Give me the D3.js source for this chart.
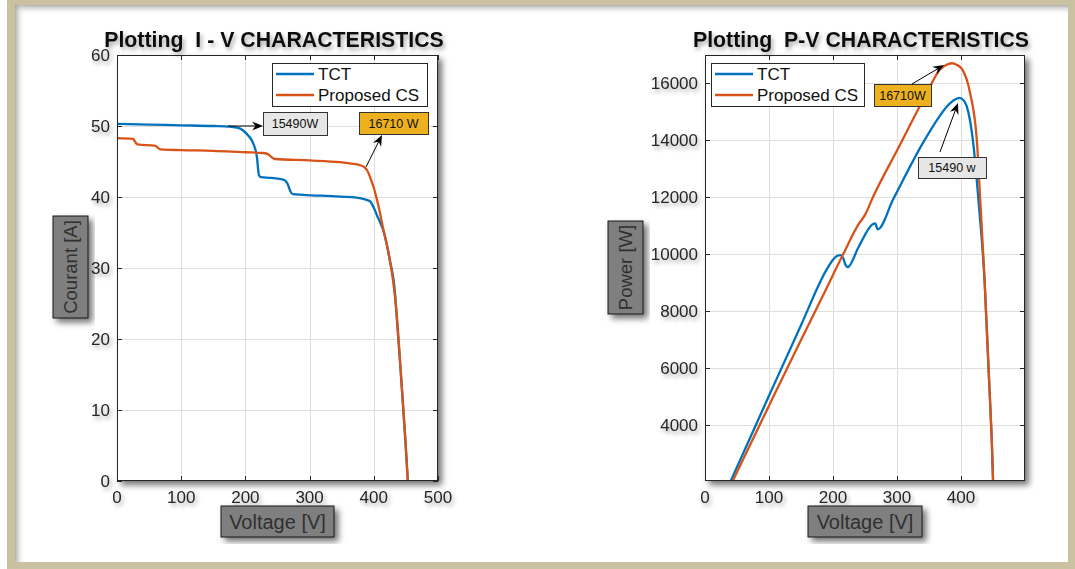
<!DOCTYPE html>
<html><head><meta charset="utf-8">
<script src="https://cdn.jsdelivr.net/npm/d3@7"></script>
<style>
body{margin:0;background:#fff;}
svg{display:block;font-family:"Liberation Sans",Arial,Helvetica,sans-serif;}
</style></head><body>
<svg id="fig" width="1075" height="569"></svg>
<script>
// ---- I-V characteristics ----
const ivVoltTCT = [0, 50, 100, 150, 176, 190, 196, 204, 212, 218, 221, 224, 240, 256, 262, 266, 270, 274, 290, 340, 370, 385, 394, 400, 405, 410, 414, 420, 425, 433, 436, 441, 445, 449, 453];
const ivCurrTCT = [50.3, 50.2, 50.1, 50.0, 49.9, 49.7, 49.4, 48.7, 47.6, 45.6, 43.1, 42.8, 42.7, 42.5, 42.3, 41.8, 40.8, 40.4, 40.3, 40.1, 39.95, 39.7, 39.4, 38.5, 37.4, 36.4, 35.5, 33.4, 31.1, 26.5, 22.7, 16.5, 11.4, 6.0, 0];
const ivVoltCS = [0, 25, 28, 32, 60, 64, 68, 100, 150, 200, 228, 236, 241, 246, 300, 347, 365, 378, 385, 390, 395, 400, 405, 410, 414, 420, 425, 430, 435, 440, 445, 449, 453];
const ivCurrCS = [48.3, 48.2, 47.8, 47.4, 47.2, 46.9, 46.7, 46.6, 46.5, 46.3, 46.2, 46.0, 45.6, 45.35, 45.15, 44.9, 44.7, 44.5, 44.2, 43.7, 42.6, 41.3, 39.6, 37.6, 35.8, 33.4, 31.1, 28.2, 24.2, 18.2, 11.4, 6.0, 0];

// ---- P-V characteristics ----
const pvVoltTCT = [0, 100, 150, 190, 200, 206, 212, 216, 219, 223, 240, 262, 266, 270, 294, 341, 365, 378, 390, 398, 405, 409, 419, 428, 437, 443, 448, 453];
const pvPowTCT = [0, 5020, 7500, 9450, 9800, 9930, 9960, 9850, 9650, 9540, 10250, 11050, 11080, 10870, 11925, 13927, 14800, 15192, 15430, 15490, 15380, 15192, 13927, 11700, 9000, 6000, 3500, 0];
const pvVoltCS = [0, 100, 150, 183, 216, 240, 250, 263, 300, 347, 367, 380, 386, 393, 402, 414, 425, 430, 437, 443, 448, 453];
const pvPowCS = [0, 4670, 6980, 8480, 10000, 11050, 11380, 12030, 13640, 15683, 16492, 16680, 16710, 16660, 16492, 15683, 13927, 11925, 9000, 6000, 3500, 0];

const seriesNames = ["TCT", "Proposed CS"];
const seriesColors = ["#0072BD", "#D95319"];

const ivXTicks = [0, 100, 200, 300, 400, 500];
const ivYTicks = [0, 10, 20, 30, 40, 50, 60];
const pvXTicks = [0, 100, 200, 300, 400];
const pvYTicks = [4000, 6000, 8000, 10000, 12000, 14000, 16000];

const peakLabels = {iv: ["15490W", "16710 W"], pv: ["15490 w", "16710W"]};

const svg = d3.select("#fig");
const defs = svg.append("defs");

// soft shadows used for text, axes boxes and label boxes
const fT = defs.append("filter").attr("id", "tsh").attr("x", "-30%").attr("y", "-40%").attr("width", "170%").attr("height", "200%");
fT.append("feDropShadow").attr("dx", 2).attr("dy", 3).attr("stdDeviation", 2).attr("flood-color", "#000").attr("flood-opacity", 0.35);
const fB = defs.append("filter").attr("id", "bsh").attr("x", "-10%").attr("y", "-10%").attr("width", "130%").attr("height", "130%");
fB.append("feDropShadow").attr("dx", 4).attr("dy", 4).attr("stdDeviation", 3).attr("flood-color", "#000").attr("flood-opacity", 0.55);

// inner shadow gradients for the frame
const gTop = defs.append("linearGradient").attr("id", "gTop").attr("x1", 0).attr("y1", 0).attr("x2", 0).attr("y2", 1);
gTop.append("stop").attr("offset", 0).attr("stop-color", "#9a9a9a").attr("stop-opacity", 0.8);
gTop.append("stop").attr("offset", 1).attr("stop-color", "#fff").attr("stop-opacity", 0);
const gLeft = defs.append("linearGradient").attr("id", "gLeft").attr("x1", 0).attr("y1", 0).attr("x2", 1).attr("y2", 0);
gLeft.append("stop").attr("offset", 0).attr("stop-color", "#9a9a9a").attr("stop-opacity", 0.8);
gLeft.append("stop").attr("offset", 1).attr("stop-color", "#fff").attr("stop-opacity", 0);

// frame
const tan = "#c9c19f";
svg.append("rect").attr("x", 15).attr("y", 5).attr("width", 1053).attr("height", 10).attr("fill", "url(#gTop)");
svg.append("rect").attr("x", 15).attr("y", 5).attr("width", 10).attr("height", 557).attr("fill", "url(#gLeft)");
svg.append("path")
  .attr("d", "M7,0H1075V569H7Z M15,5V562H1068V5Z")
  .attr("fill", tan).attr("fill-rule", "evenodd");

const AXC = "#262626";

function drawPanel(cfg) {
  const x = d3.scaleLinear().domain(cfg.xDomain).range([cfg.x0, cfg.x1]);
  const y = d3.scaleLinear().domain(cfg.yDomain).range([cfg.y1, cfg.y0]);
  const g = svg.append("g");

  // axes background with drop shadow
  g.append("rect").attr("x", cfg.x0).attr("y", cfg.y0).attr("width", cfg.x1 - cfg.x0).attr("height", cfg.y1 - cfg.y0)
    .attr("fill", "#fff").attr("filter", "url(#bsh)");

  // grid
  const grid = g.append("g").attr("stroke", "#dedede").attr("stroke-width", 1);
  cfg.xTicks.forEach(t => { const px = Math.round(x(t)) + 0.5; if (px > cfg.x0 + 1 && px < cfg.x1 - 1) grid.append("line").attr("x1", px).attr("x2", px).attr("y1", cfg.y0).attr("y2", cfg.y1); });
  cfg.yTicks.forEach(t => { const py = Math.round(y(t)) + 0.5; if (py > cfg.y0 + 1 && py < cfg.y1 - 1) grid.append("line").attr("y1", py).attr("y2", py).attr("x1", cfg.x0).attr("x2", cfg.x1); });

  // curves
  const clipId = "clip" + cfg.id;
  defs.append("clipPath").attr("id", clipId).append("rect")
    .attr("x", cfg.x0).attr("y", cfg.y0).attr("width", cfg.x1 - cfg.x0).attr("height", cfg.y1 - cfg.y0);
  const line = d3.line().x(d => x(d[0])).y(d => y(d[1])).curve(d3.curveMonotoneX);
  const cg = g.append("g").attr("clip-path", `url(#${clipId})`);
  cfg.series.forEach((s, i) => {
    cg.append("path").datum(d3.zip(s.v, s.p)).attr("d", line)
      .attr("fill", "none").attr("stroke", seriesColors[i]).attr("stroke-width", 2.3).attr("stroke-linejoin", "round");
  });

  // axis box and inward ticks on all sides
  const tl = 5;
  const ax = g.append("g").attr("stroke", AXC).attr("stroke-width", 1).attr("fill", "none");
  ax.append("rect").attr("x", cfg.x0 + 0.5).attr("y", cfg.y0 + 0.5).attr("width", cfg.x1 - cfg.x0 - 1).attr("height", cfg.y1 - cfg.y0 - 1);
  cfg.xTicks.forEach(t => {
    const px = Math.round(x(t)) + 0.5;
    ax.append("line").attr("x1", px).attr("x2", px).attr("y1", cfg.y1).attr("y2", cfg.y1 - tl);
    ax.append("line").attr("x1", px).attr("x2", px).attr("y1", cfg.y0).attr("y2", cfg.y0 + tl);
  });
  cfg.yTicks.forEach(t => {
    const py = Math.round(y(t)) + 0.5;
    ax.append("line").attr("y1", py).attr("y2", py).attr("x1", cfg.x0).attr("x2", cfg.x0 + tl);
    ax.append("line").attr("y1", py).attr("y2", py).attr("x1", cfg.x1).attr("x2", cfg.x1 - tl);
  });

  // tick labels
  const tlg = g.append("g").attr("fill", AXC).attr("font-size", 17).attr("filter", "url(#tsh)");
  cfg.xTicks.forEach(t => tlg.append("text").attr("x", x(t)).attr("y", cfg.y1 + 22).attr("text-anchor", "middle").text(t));
  cfg.yTicks.forEach(t => tlg.append("text").attr("x", cfg.x0 - 7).attr("y", y(t) + 6).attr("text-anchor", "end").text(t));

  // title
  g.append("text").attr("x", cfg.titleX).attr("y", 47).attr("text-anchor", "middle")
    .attr("font-size", 21.3).attr("font-weight", "bold").attr("fill", "#111").attr("filter", "url(#tsh)")
    .attr("xml:space", "preserve").text(cfg.title);

  // axis labels in grey boxes
  const xl = cfg.xLabelBox;
  g.append("rect").attr("x", xl[0]).attr("y", xl[1]).attr("width", xl[2]).attr("height", xl[3])
    .attr("fill", "#7f7f7f").attr("stroke", "#1a1a1a").attr("stroke-width", 1).attr("filter", "url(#bsh)");
  g.append("text").attr("x", xl[0] + xl[2] / 2).attr("y", xl[1] + xl[3] / 2 + 7).attr("text-anchor", "middle")
    .attr("font-size", 20).attr("fill", "#303030").text(cfg.xLabel);
  const yl = cfg.yLabelBox;
  g.append("rect").attr("x", yl[0]).attr("y", yl[1]).attr("width", yl[2]).attr("height", yl[3])
    .attr("fill", "#7f7f7f").attr("stroke", "#1a1a1a").attr("stroke-width", 1).attr("filter", "url(#bsh)");
  g.append("text").attr("transform", `translate(${yl[0] + yl[2] / 2 + 6.5},${yl[1] + yl[3] / 2}) rotate(-90)`)
    .attr("text-anchor", "middle").attr("font-size", 18.5).attr("fill", "#303030").text(cfg.yLabel);

  // legend
  const lg = cfg.legend;
  g.append("rect").attr("x", lg[0] + 0.5).attr("y", lg[1] + 0.5).attr("width", lg[2]).attr("height", lg[3])
    .attr("fill", "#fff").attr("stroke", "#262626").attr("stroke-width", 1);
  seriesNames.forEach((n, i) => {
    const cy = lg[1] + 11 + i * 21;
    g.append("line").attr("x1", lg[0] + 4).attr("x2", lg[0] + 42).attr("y1", cy).attr("y2", cy)
      .attr("stroke", seriesColors[i]).attr("stroke-width", 2.3);
    g.append("text").attr("x", lg[0] + 46).attr("y", cy + 6).attr("font-size", 17).attr("fill", "#111").text(n);
  });

  // peak annotations
  cfg.notes.forEach(nt => {
    g.append("rect").attr("x", nt.box[0] + 0.5).attr("y", nt.box[1] + 0.5).attr("width", nt.box[2]).attr("height", nt.box[3])
      .attr("fill", nt.fill).attr("stroke", "#333").attr("stroke-width", 1);
    g.append("text").attr("x", nt.box[0] + nt.box[2] / 2).attr("y", nt.box[1] + nt.box[3] / 2 + 4.5)
      .attr("text-anchor", "middle").attr("font-size", 12.5).attr("fill", "#111").text(nt.text);
    arrow(g, nt.from, nt.to);
  });
}

function arrow(g, a, b) {
  const dx = b[0] - a[0], dy = b[1] - a[1], L = Math.hypot(dx, dy);
  const ux = dx / L, uy = dy / L, nx = -uy, ny = ux;
  const hl = 11, hw = 4.5, back = 7.5;
  g.append("line").attr("x1", a[0]).attr("y1", a[1]).attr("x2", b[0] - ux * back).attr("y2", b[1] - uy * back)
    .attr("stroke", "#000").attr("stroke-width", 1);
  const p = [
    [b[0], b[1]],
    [b[0] - ux * hl + nx * hw, b[1] - uy * hl + ny * hw],
    [b[0] - ux * back, b[1] - uy * back],
    [b[0] - ux * hl - nx * hw, b[1] - uy * hl - ny * hw]
  ];
  g.append("path").attr("d", "M" + p.map(q => q.join(",")).join("L") + "Z").attr("fill", "#000");
}

drawPanel({
  id: "iv", x0: 117, x1: 438, y0: 55, y1: 481,
  xDomain: [0, 500], yDomain: [0, 60], xTicks: ivXTicks, yTicks: ivYTicks,
  series: [{v: ivVoltTCT, p: ivCurrTCT}, {v: ivVoltCS, p: ivCurrCS}],
  title: "Plotting  I - V CHARACTERISTICS", titleX: 274,
  xLabel: "Voltage [V]", xLabelBox: [221, 506, 113, 31],
  yLabel: "Courant [A]", yLabelBox: [53, 216, 35, 102],
  legend: [272, 63, 155, 43],
  notes: [
    {text: peakLabels.iv[0], box: [263, 112, 64, 23], fill: "#e6e6e6", from: [228, 126], to: [263, 126]},
    {text: peakLabels.iv[1], box: [359, 112, 69, 22], fill: "#EDB120", from: [366, 167], to: [382, 135]}
  ]
});

drawPanel({
  id: "pv", x0: 705, x1: 1025, y0: 55, y1: 481,
  xDomain: [0, 500], yDomain: [2020, 17000], xTicks: pvXTicks, yTicks: pvYTicks,
  series: [{v: pvVoltTCT, p: pvPowTCT}, {v: pvVoltCS, p: pvPowCS}],
  title: "Plotting  P-V CHARACTERISTICS", titleX: 861,
  xLabel: "Voltage [V]", xLabelBox: [808, 506, 114, 31],
  yLabel: "Power [W]", yLabelBox: [608, 221, 35, 93],
  legend: [711, 63, 153, 43],
  notes: [
    {text: peakLabels.pv[1], box: [874, 84, 57, 22], fill: "#EDB120", from: [912, 84], to: [944, 65]},
    {text: peakLabels.pv[0], box: [918, 157, 68, 21], fill: "#e6e6e6", from: [940, 152], to: [958, 103]}
  ]
});
</script>
</body></html>
